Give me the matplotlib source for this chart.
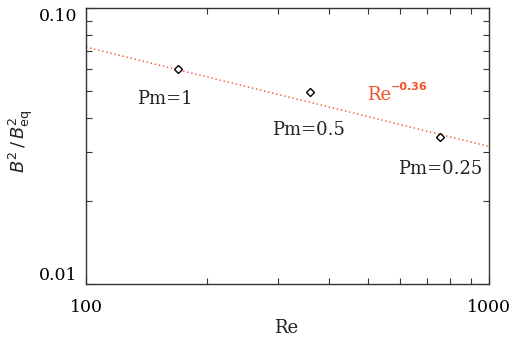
import numpy as np
import matplotlib
matplotlib.use("Agg")
import matplotlib.pyplot as plt

# simulation points
re_vals = [169, 360, 756]
b2_vals = [0.0601, 0.0496, 0.0341]
pm_labels = ["Pm=1", "Pm=0.5", "Pm=0.25"]

# power-law fit Re^-0.36, endpoints of the plotted line
fit_re = [100, 1000]
fit_b2 = [0.0722, 0.0315]

red = "#f4502a"
serif = "DejaVu Serif"

fig = plt.figure(figsize=(5.1, 3.4), dpi=100)
ax = fig.add_axes([86 / 510, 56 / 340, 403 / 510, 276 / 340])

ax.plot(fit_re, fit_b2, color=red, linestyle=(0, (1, 2)), linewidth=1)
ax.plot(re_vals, b2_vals, linestyle="none", marker="D", markersize=4.5,
        mfc="white", mec="black", mew=1)

ax.set_xscale("log")
ax.set_yscale("log")
ax.set_xlim(100, 1000)
ax.set_ylim(0.01, 0.1)

ax.set_xticks([100, 1000])
ax.set_xticklabels(["100", "1000"], family=serif, fontsize=12.5)
ax.set_yticks([0.01, 0.1])
ax.set_yticklabels(["0.01", "0.10"], family=serif, fontsize=12.5)
ax.get_yticklabels()[0].set_va("bottom")
ax.get_yticklabels()[1].set_va("top")

ax.tick_params(which="both", direction="in", top=True, right=True, color="#333333")
ax.tick_params(which="major", length=7, width=0.8)
ax.tick_params(which="minor", length=4, width=0.8)
ax.tick_params(axis="x", which="major", pad=11)
ax.tick_params(axis="y", which="major", pad=6)
ax.yaxis.set_minor_formatter(matplotlib.ticker.NullFormatter())
ax.xaxis.set_minor_formatter(matplotlib.ticker.NullFormatter())
for s in ax.spines.values():
    s.set_color("#333333")
    s.set_linewidth(1)

# labels next to each point
label_pos = [(0.196, 0.670), (0.551, 0.558), (0.880, 0.417)]
for lab, (tx, ty) in zip(pm_labels, label_pos):
    ax.text(tx, ty, lab, transform=ax.transAxes, ha="center", va="center",
            family=serif, fontsize=13, color="#222222")

ax.text(0.698, 0.685, "Re", transform=ax.transAxes, ha="left", va="center",
        family=serif, fontsize=13, color=red)
ax.text(0.756, 0.712, "\u22120.36", transform=ax.transAxes, ha="left", va="center",
        family="DejaVu Sans", fontsize=8, fontweight="bold", color=red)

fig.text(286 / 510, 1 - 328 / 340, "Re", ha="center", va="center",
         family=serif, fontsize=13, color="#222222")
plt.rcParams["mathtext.fontset"] = "dejavusans"
fig.text(21 / 510, 1 - 141 / 340, r"$B^2\,/\,B^2_{\rm eq}$", rotation=90,
         ha="center", va="center", fontsize=13, color="#222222")

fig.savefig("out.png", dpi=100)
